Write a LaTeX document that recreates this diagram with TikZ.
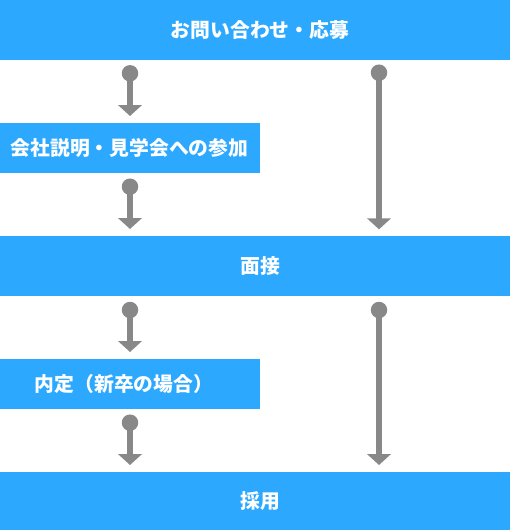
\documentclass[tikz,border=0pt]{standalone}
\usepackage{fontspec}
\setmainfont{Noto Sans CJK JP}
\usetikzlibrary{arrows.meta}
\definecolor{barblue}{HTML}{2DA8FF}
\definecolor{flowgray}{HTML}{888888}
\tikzset{
  dot/.style={circle, fill=flowgray, draw=none, minimum size=16.5pt, inner sep=0pt},
  flow/.style={draw=flowgray, line width=6.5pt, -{Triangle[width=23.5pt,length=11pt]}, flowgray},
  lbl/.style={text=white, font=\fontsize{19.8}{22}\selectfont\bfseries, inner sep=0pt}
}
\begin{document}
\begin{tikzpicture}[x=1pt,y=-1pt]
\useasboundingbox (0,0) rectangle (510,530);
% bars and boxes
\fill[barblue] (0,0) rectangle (510,59.5);
\fill[barblue] (0,123) rectangle (260,173);
\fill[barblue] (0,236) rectangle (510,296);
\fill[barblue] (0,359) rectangle (260,409);
\fill[barblue] (0,472) rectangle (510,530);
\node[lbl] (t1) at (260,30) {お問い合わせ・応募};
\node[lbl] (t2) at (129.5,148) {会社説明・見学会への参加};
\node[lbl] (t3) at (260,266.5) {面接};
\node[lbl] (t4) at (124,384) {内定（新卒の場合）};
\node[lbl] (t5) at (260,501.5) {採用};
% dots
\node[dot] (d1) at (130,73.3) {};
\node[dot] (d2) at (130,186.7) {};
\node[dot] (d3) at (130,310) {};
\node[dot] (d4) at (130,422.7) {};
\node[dot] (d5) at (379,72.7) {};
\node[dot] (d6) at (379,310) {};
\coordinate (e1) at (130,116);
\coordinate (e2) at (130,229);
\coordinate (e3) at (130,352);
\coordinate (e4) at (130,465);
\coordinate (e5) at (379,229.3);
\coordinate (e6) at (379,465);
\draw[flow] (d1.center) -- (e1);
\draw[flow] (d2.center) -- (e2);
\draw[flow] (d3.center) -- (e3);
\draw[flow] (d4.center) -- (e4);
\draw[flow] (d5.center) -- (e5);
\draw[flow] (d6.center) -- (e6);
\end{tikzpicture}
\end{document}
